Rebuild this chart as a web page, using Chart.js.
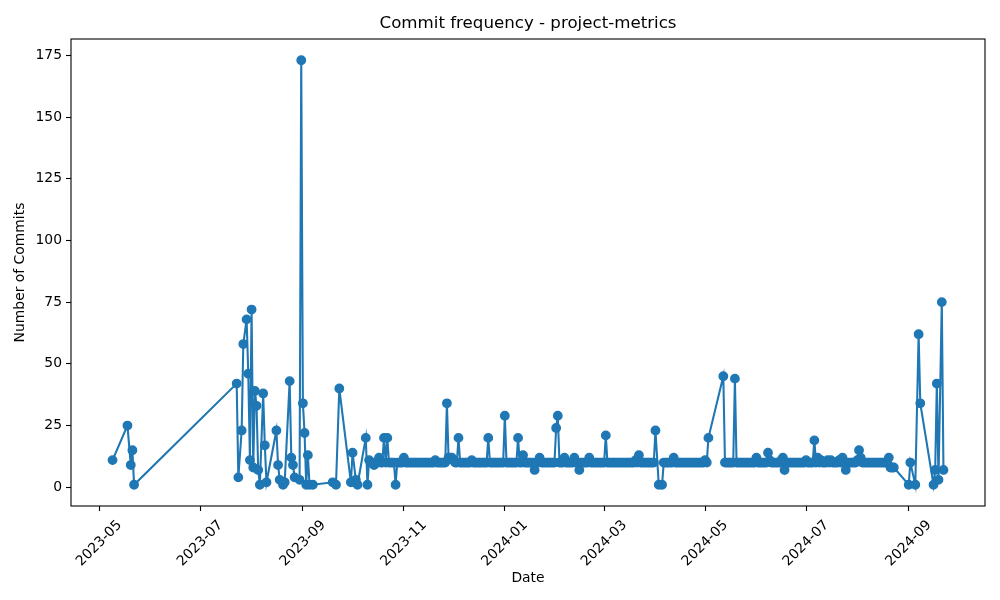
<!DOCTYPE html>
<html>
<head>
<meta charset="utf-8">
<script src="https://cdn.jsdelivr.net/npm/chart.js@4.4.1/dist/chart.umd.min.js"></script>
<style>
html,body{margin:0;padding:0;background:#ffffff;}
#wrap{width:1000px;height:600px;position:relative;}
</style>
</head>
<body>
<div id="wrap"><canvas id="c"></canvas></div>
<script>
// ---------- data ----------
const titleText = 'Commit frequency - project-metrics';
const xAxisLabel = 'Date';
const yAxisLabel = 'Number of Commits';
const xTickLabels = ['2023-05', '2023-07', '2023-09', '2023-11', '2024-01', '2024-03', '2024-05', '2024-07', '2024-09'];
const yTickValues = [0, 25, 50, 75, 100, 125, 150, 175];

// sparse activity, May - early Oct 2023
const earlyDates = [
  '2023-05-09', '2023-05-18', '2023-05-20', '2023-05-21', '2023-05-22',
  '2023-07-23', '2023-07-24', '2023-07-26', '2023-07-27', '2023-07-29', '2023-07-30', '2023-07-31',
  '2023-08-01', '2023-08-02', '2023-08-03', '2023-08-04', '2023-08-05', '2023-08-06', '2023-08-08',
  '2023-08-09', '2023-08-10', '2023-08-16', '2023-08-17', '2023-08-18', '2023-08-20', '2023-08-21',
  '2023-08-24', '2023-08-25', '2023-08-26', '2023-08-27', '2023-08-30', '2023-08-31',
  '2023-09-01', '2023-09-02', '2023-09-03', '2023-09-04', '2023-09-05', '2023-09-07',
  '2023-09-19', '2023-09-21', '2023-09-23', '2023-09-30',
  '2023-10-01', '2023-10-03', '2023-10-04', '2023-10-09', '2023-10-10'
];
const earlyCommits = [
  11, 25, 9, 15, 1,
  42, 4, 23, 58, 68, 46, 11,
  72, 8, 39, 33, 7, 1, 38,
  17, 2, 23, 9, 3, 1, 2,
  43, 12, 9, 4, 3, 173,
  34, 22, 1, 13, 1, 1,
  2, 1, 40, 2,
  14, 3, 1, 20, 1
];

// daily activity from 2023-10-11 to 2024-08-23 (null = no commits that day)
const bandStartDate = '2023-10-11';
const bandCommits = [
  // Oct 11-31 2023
  11, 10, 10, 9, 10, 10, 12, 10, 10, 20, 10, 20, 10, 10, 10, 10, 1, 10, 10, 10, 10,
  // Nov 2023
  12, 10, 10, 10, 10, 10, 10,
  10, 10, 10, 10, 10, 10, 10,
  10, 10, 10, 10, 10, 11, 10,
  10, 10, 10, 10, 10, 34, 12,
  12, 12,
  // Dec 2023
  11, 10, 10, 20, 10, 10, 10,
  10, 10, 10, 10, 11, 10, 10,
  10, 10, 10, 10, 10, 10, 10,
  20, 10, 10, 10, 10, 10, 10,
  10, 10, 10,
  // Jan 2024
  29, 10, 10, 10, 10, 10, 10,
  10, 20, 10, 10, 13, 10, 10,
  10, 10, 10, 10, 7, 10, 10,
  12, 10, 10, 10, 10, 10, 10,
  10, 10, 10,
  // Feb 2024
  24, 29, 10, 10, 10, 12, 10,
  10, 10, 10, 10, 12, 10, 10,
  7, 10, 10, 10, 10, 10, 12,
  10, 10, 10, 10, 10, 10, 10,
  10,
  // Mar 2024
  10, 21, 10, 10, 10, 10, 10,
  10, 10, 10, 10, 10, 10, 10,
  10, 10, 10, 10, 10, 11, 10,
  13, 10, 10, 10, 10, 10, 10,
  10, 10, 10,
  // Apr 2024
  23, null, 1, null, 1, 10, 10,
  10, 10, 10, 10, 12, 10, 10,
  10, 10, 10, 10, 10, 10, 10,
  10, 10, 10, 10, 10, 10, 10,
  10, 10,
  // May 2024
  11, 10, 20, null, null, null, null,
  null, null, null, null, 45, 10, 10,
  10, 10, 10, 10, 44, 10, 10,
  10, 10, 10, 10, 10, 10, 10,
  10, 10, 10,
  // Jun 2024
  12, 10, 10, 10, 10, 10, 10,
  14, 11, 10, 10, 10, 10, 10,
  10, 11, 12, 7, 10, 10, 10,
  10, 10, 10, 10, 10, 10, 10,
  10, 10,
  // Jul 2024
  11, 10, 10, 10, 10, 19, 10,
  12, 10, 11, 10, 10, 10, 11,
  10, 11, 10, 10, 10, 10, 11,
  10, 12, 10, 7, 10, 10, 10,
  10, 10, 10,
  // Aug 1-23 2024
  11, 15, 12, 10, 10, 10, 10,
  10, 10, 10, 10, 10, 10, 10,
  10, 10, 10, 10, 10, 12, 8,
  8, 8
];

// sparse activity, Sep 2024
const lateDates = ['2024-09-01', '2024-09-02', '2024-09-05', '2024-09-07', '2024-09-08',
                   '2024-09-16', '2024-09-17', '2024-09-18', '2024-09-19', '2024-09-21', '2024-09-22'];
const lateCommits = [1, 10, 1, 62, 34, 1, 7, 42, 3, 75, 7];

// ---------- build ----------
const DAY = 86400000;
function parseDay(s) {
  const p = s.split('-').map(Number);
  return Date.UTC(p[0], p[1] - 1, p[2] || 1);
}
function fmtMonth(v) {
  const d = new Date(v);
  const m = d.getUTCMonth() + 1;
  return d.getUTCFullYear() + '-' + (m < 10 ? '0' + m : m);
}
const points = [];
earlyDates.forEach((d, i) => points.push({x: parseDay(d), y: earlyCommits[i]}));
const b0 = parseDay(bandStartDate);
bandCommits.forEach((v, i) => { if (v !== null) points.push({x: b0 + i * DAY, y: v}); });
lateDates.forEach((d, i) => points.push({x: parseDay(d), y: lateCommits[i]}));

const xs = points.map(p => p.x), ys = points.map(p => p.y);
const xMin = Math.min(...xs), xMax = Math.max(...xs);
const yMin = Math.min(...ys), yMax = Math.max(...ys);
const xPad = (xMax - xMin) * 0.05, yPad = (yMax - yMin) * 0.05;

const FONT = 'DejaVu Sans';
const mplBlue = '#1f77b4';

const framePlugin = {
  id: 'frame',
  afterDraw(chart) {
    const a = chart.chartArea, ctx = chart.ctx;
    ctx.save();
    ctx.strokeStyle = '#000';
    ctx.lineWidth = 1.1;
    ctx.strokeRect(a.left, a.top, a.right - a.left, a.bottom - a.top);
    ctx.restore();
  }
};

new Chart(document.getElementById('c'), {
  type: 'line',
  data: {
    datasets: [{
      data: points,
      borderColor: mplBlue,
      backgroundColor: mplBlue,
      borderWidth: 2.08,
      pointRadius: 4.2,
      pointBorderWidth: 1.4,
      pointBorderColor: mplBlue,
      pointBackgroundColor: mplBlue,
      pointHoverRadius: 4.2,
      tension: 0,
      fill: false
    }]
  },
  options: {
    responsive: true,
    maintainAspectRatio: false,
    animation: false,
    devicePixelRatio: 1,
    layout: {padding: {left: 0, right: 15, top: 0, bottom: 0}},
    plugins: {
      legend: {display: false},
      tooltip: {enabled: false},
      title: {
        display: true,
        text: titleText,
        fullSize: false,
        color: '#000',
        font: {family: FONT, size: 16.67, weight: 'normal'},
        padding: {top: 14, bottom: 5}
      }
    },
    scales: {
      x: {
        type: 'linear',
        min: xMin - xPad,
        max: xMax + xPad,
        afterBuildTicks(scale) {
          scale.ticks = xTickLabels.map(s => ({value: parseDay(s + '-01')}));
        },
        afterFit(scale) { scale.height = 94; },
        grid: {display: true, drawOnChartArea: false, drawTicks: true, tickLength: 5, tickColor: '#000', tickWidth: 1.1},
        border: {display: false},
        ticks: {
          autoSkip: false,
          maxRotation: 45,
          minRotation: 45,
          labelOffset: 20.5,
          padding: 6,
          color: '#000',
          font: {family: FONT, size: 13.9},
          callback: (v) => fmtMonth(v)
        },
        title: {
          display: true,
          text: xAxisLabel,
          color: '#000',
          font: {family: FONT, size: 13.9},
          padding: {top: 0, bottom: 13.6}
        }
      },
      y: {
        type: 'linear',
        min: yMin - yPad,
        max: yMax + yPad,
        afterBuildTicks(scale) {
          scale.ticks = yTickValues.map(v => ({value: v}));
        },
        afterFit(scale) { scale.width = 71; },
        grid: {display: true, drawOnChartArea: false, drawTicks: true, tickLength: 5, tickColor: '#000', tickWidth: 1.1},
        border: {display: false},
        ticks: {
          padding: 4,
          color: '#000',
          font: {family: FONT, size: 13.9},
          callback: (v) => String(v)
        },
        title: {
          display: true,
          text: yAxisLabel,
          color: '#000',
          font: {family: FONT, size: 13.9},
          padding: {top: 11.7, bottom: 0}
        }
      }
    }
  },
  plugins: [framePlugin]
});
</script>
</body>
</html>
